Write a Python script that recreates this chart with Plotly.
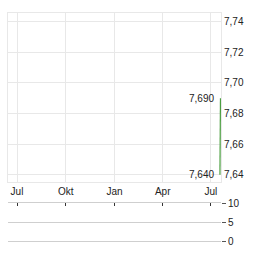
import plotly.graph_objects as go

# Data
price_dates = ["2024-07-18", "2024-07-19"]
price_values = [7.640, 7.690]
volume_dates = ["2024-07-18", "2024-07-19"]
volume_values = [0, 0]
month_ticks = ["2023-07-01", "2023-10-01", "2024-01-01", "2024-04-01", "2024-07-01"]
month_labels = ["Jul", "Okt", "Jan", "Apr", "Jul"]
price_ticks = [7.64, 7.66, 7.68, 7.70, 7.72, 7.74]
volume_ticks = [0, 5, 10]
x_range = ["2023-06-14", "2024-07-20"]

W, H = 264, 255
xdom = [8 / W, 221 / W]
FONT = "Liberation Sans, Arial, sans-serif"
TXT = "#222222"
GRID = "#e8e8e8"
VGRID = "#cfcfcf"

fig = go.Figure()
fig.add_trace(go.Scatter(x=price_dates, y=price_values, mode="lines",
                         line=dict(color="#4a9e3f", width=1.2),
                         xaxis="x", yaxis="y", hoverinfo="skip"))
fig.add_trace(go.Bar(x=volume_dates, y=volume_values, marker_color="#4a9e3f",
                     xaxis="x2", yaxis="y2", hoverinfo="skip"))

hi = max(price_values)
lo = min(price_values)
for v, d in [(hi, price_dates[price_values.index(hi)]), (lo, price_dates[price_values.index(lo)])]:
    fig.add_annotation(x=d, y=v, xref="x", yref="y", text=f"{v:.3f}".replace(".", ","),
                       showarrow=False, xanchor="right", yanchor="middle", xshift=-4,
                       font=dict(family=FONT, size=10, color=TXT))

fig.update_layout(
    width=W, height=H,
    margin=dict(l=0, r=0, t=0, b=0),
    paper_bgcolor="white", plot_bgcolor="white",
    showlegend=False,
    separators=",.",
    bargap=0.2,
    xaxis=dict(domain=xdom, range=x_range, type="date", anchor="y",
               tickvals=month_ticks, ticktext=month_labels, ticks="",
               showgrid=True, gridcolor=GRID, gridwidth=1,
               showline=True, mirror=True, linecolor=GRID, linewidth=1,
               zeroline=False, tickfont=dict(family=FONT, size=10, color=TXT)),
    yaxis=dict(domain=[70 / H, 248 / H], range=[7.635, 7.746], side="right", anchor="x",
               tickvals=price_ticks, tickformat=".2f", ticks="",
               showgrid=True, gridcolor=GRID, gridwidth=1,
               showline=True, mirror=True, linecolor=GRID, linewidth=1,
               zeroline=False, tickfont=dict(family=FONT, size=10, color=TXT)),
    xaxis2=dict(domain=xdom, range=x_range, type="date", anchor="y2", side="top",
                tickvals=month_ticks, ticks="inside", ticklen=3, tickcolor="#333333",
                showticklabels=False, showgrid=False,
                showline=True, mirror=True, linecolor=VGRID, linewidth=1,
                zeroline=False),
    yaxis2=dict(domain=[8 / H, 48 / H], range=[0, 10], side="right", anchor="x2",
                tickvals=volume_ticks, ticks="outside", ticklen=4, tickcolor="#555555",
                showgrid=True, gridcolor=VGRID, gridwidth=1,
                showline=False, zeroline=False,
                tickfont=dict(family=FONT, size=10, color=TXT)),
)

fig.write_html("out.html")
